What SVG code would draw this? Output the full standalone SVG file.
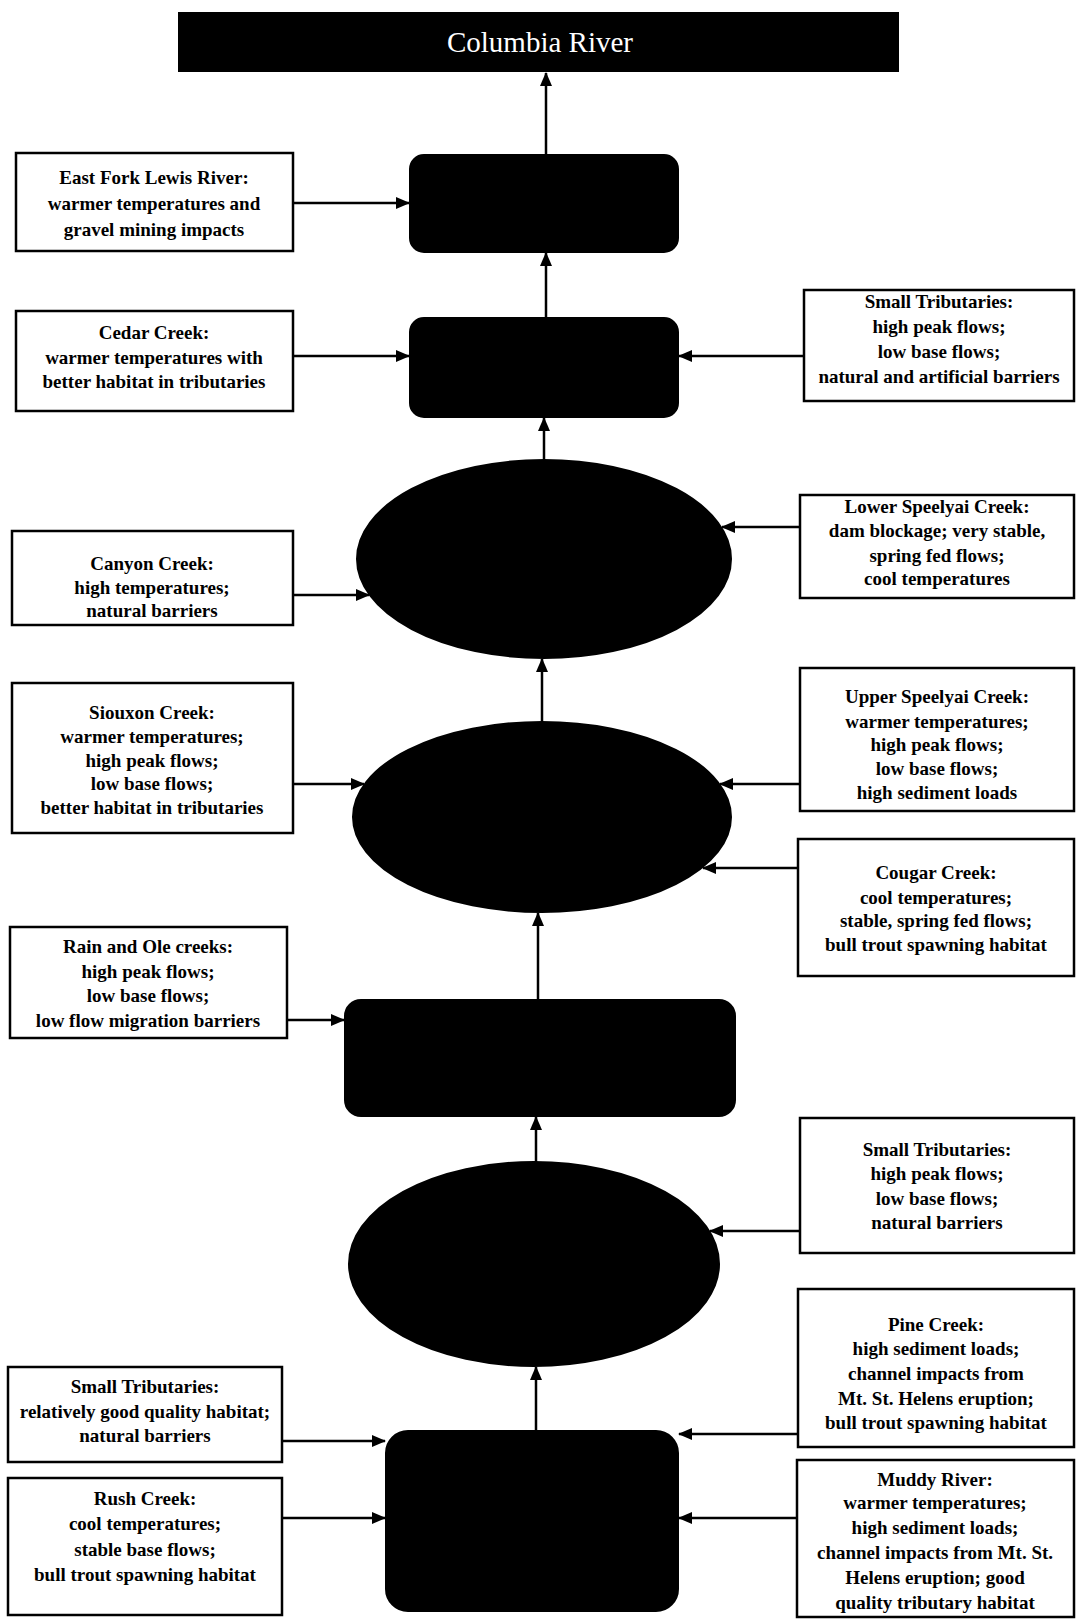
<svg xmlns="http://www.w3.org/2000/svg" width="1085" height="1624" viewBox="0 0 1085 1624">
<style>
.box{fill:#fff;stroke:#000;stroke-width:2.5}
.dark{fill:#000;stroke:#000;stroke-width:2}
.t{font-family:"Liberation Serif","Times New Roman",serif;font-weight:bold;font-size:19px;text-anchor:middle;fill:#000}
.title{font-family:"Liberation Serif","Times New Roman",serif;font-size:29px;text-anchor:middle;fill:#fff}
.c{stroke:#000;stroke-width:2.5;fill:none;marker-end:url(#ah)}
</style>
<defs>
<marker id="ah" markerUnits="userSpaceOnUse" markerWidth="14" markerHeight="12" refX="13" refY="6" orient="auto">
<path d="M0,0 L14,6 L0,12 Z" fill="#000"/>
</marker>
</defs>
<rect width="1085" height="1624" fill="#fff"/>

<g id="connectors">
<line class="c" x1="546" y1="155" x2="546" y2="73"/>
<line class="c" x1="546" y1="318" x2="546" y2="253"/>
<line class="c" x1="544" y1="460" x2="544" y2="418"/>
<line class="c" x1="542" y1="722" x2="542" y2="659"/>
<line class="c" x1="538" y1="1000" x2="538" y2="913"/>
<line class="c" x1="536" y1="1162" x2="536" y2="1117"/>
<line class="c" x1="536" y1="1431" x2="536" y2="1367"/>
<line class="c" x1="293" y1="203" x2="409" y2="203"/>
<line class="c" x1="293" y1="356" x2="409" y2="356"/>
<line class="c" x1="804" y1="356" x2="679" y2="356"/>
<line class="c" x1="293" y1="595" x2="369" y2="595"/>
<line class="c" x1="800" y1="527" x2="722" y2="527"/>
<line class="c" x1="293" y1="784" x2="364" y2="784"/>
<line class="c" x1="800" y1="784" x2="720" y2="784"/>
<line class="c" x1="798" y1="868" x2="703" y2="868"/>
<line class="c" x1="287" y1="1020" x2="344" y2="1020"/>
<line class="c" x1="800" y1="1231" x2="710" y2="1231"/>
<line class="c" x1="282" y1="1441" x2="385" y2="1441"/>
<line class="c" x1="282" y1="1518" x2="385" y2="1518"/>
<line class="c" x1="798" y1="1434" x2="679" y2="1434"/>
<line class="c" x1="797" y1="1518" x2="679" y2="1518"/>
</g>

<g id="columbia-river">
<rect x="178" y="12" width="721" height="60" fill="#000"/>
<text class="title" x="540" y="52">Columbia River</text>
</g>

<g id="node-lewis">
<rect class="dark" x="410" y="155" width="268" height="97" rx="14" fill="#151515"/>
</g>
<g id="node-lewis2">
<rect class="dark" x="410" y="318" width="268" height="99" rx="14"/>
</g>
<g id="node-ellipse1"><ellipse class="dark" cx="544" cy="559" rx="187" ry="99"/></g>
<g id="node-ellipse2"><ellipse class="dark" cx="542" cy="817" rx="189" ry="95"/></g>
<g id="node-rect3"><rect class="dark" x="345" y="1000" width="390" height="116" rx="16"/></g>
<g id="node-ellipse3"><ellipse class="dark" cx="534" cy="1264" rx="185" ry="102"/></g>
<g id="node-rect4"><rect class="dark" x="386" y="1431" width="292" height="180" rx="22"/></g>

<g id="east-fork">
<rect class="box" x="16" y="153" width="277" height="98"/>
<text class="t" x="154" y="184">East Fork Lewis River:</text>
<text class="t" x="154" y="210">warmer temperatures and</text>
<text class="t" x="154" y="236">gravel mining impacts</text>
</g>

<g id="cedar-creek">
<rect class="box" x="16" y="311" width="277" height="100"/>
<text class="t" x="154" y="339">Cedar Creek:</text>
<text class="t" x="154" y="364">warmer temperatures with</text>
<text class="t" x="154" y="388">better habitat in tributaries</text>
</g>

<g id="small-trib-1">
<rect class="box" x="804" y="290" width="270" height="111"/>
<text class="t" x="939" y="308">Small Tributaries:</text>
<text class="t" x="939" y="333">high peak flows;</text>
<text class="t" x="939" y="358">low base flows;</text>
<text class="t" x="939" y="383">natural and artificial  barriers</text>
</g>

<g id="canyon-creek">
<rect class="box" x="12" y="531" width="281" height="94"/>
<text class="t" x="152" y="570">Canyon Creek:</text>
<text class="t" x="152" y="594">high temperatures;</text>
<text class="t" x="152" y="617">natural barriers</text>
</g>

<g id="lower-speelyai">
<rect class="box" x="800" y="495" width="274" height="103"/>
<text class="t" x="937" y="513">Lower Speelyai Creek:</text>
<text class="t" x="937" y="537">dam blockage; very stable,</text>
<text class="t" x="937" y="562">spring fed flows;</text>
<text class="t" x="937" y="585">cool temperatures</text>
</g>

<g id="siouxon-creek">
<rect class="box" x="12" y="683" width="281" height="150"/>
<text class="t" x="152" y="719">Siouxon Creek:</text>
<text class="t" x="152" y="743">warmer temperatures;</text>
<text class="t" x="152" y="767">high peak flows;</text>
<text class="t" x="152" y="790">low base flows;</text>
<text class="t" x="152" y="814">better habitat in tributaries</text>
</g>

<g id="upper-speelyai">
<rect class="box" x="800" y="668" width="274" height="143"/>
<text class="t" x="937" y="703">Upper Speelyai Creek:</text>
<text class="t" x="937" y="728">warmer temperatures;</text>
<text class="t" x="937" y="751">high peak flows;</text>
<text class="t" x="937" y="775">low base flows;</text>
<text class="t" x="937" y="799">high sediment loads</text>
</g>

<g id="cougar-creek">
<rect class="box" x="798" y="839" width="276" height="137"/>
<text class="t" x="936" y="879">Cougar Creek:</text>
<text class="t" x="936" y="904">cool temperatures;</text>
<text class="t" x="936" y="927">stable, spring fed flows;</text>
<text class="t" x="936" y="951">bull trout spawning habitat</text>
</g>

<g id="rain-ole">
<rect class="box" x="10" y="927" width="277" height="111"/>
<text class="t" x="148" y="953">Rain and Ole creeks:</text>
<text class="t" x="148" y="978">high peak flows;</text>
<text class="t" x="148" y="1002">low base flows;</text>
<text class="t" x="148" y="1027">low flow migration barriers</text>
</g>

<g id="small-trib-2">
<rect class="box" x="800" y="1118" width="274" height="135"/>
<text class="t" x="937" y="1156">Small Tributaries:</text>
<text class="t" x="937" y="1180">high peak flows;</text>
<text class="t" x="937" y="1205">low base flows;</text>
<text class="t" x="937" y="1229">natural barriers</text>
</g>

<g id="pine-creek">
<rect class="box" x="798" y="1289" width="276" height="158"/>
<text class="t" x="936" y="1331">Pine Creek:</text>
<text class="t" x="936" y="1355">high sediment loads;</text>
<text class="t" x="936" y="1380">channel impacts from</text>
<text class="t" x="936" y="1405">Mt. St. Helens eruption;</text>
<text class="t" x="936" y="1429">bull trout spawning habitat</text>
</g>

<g id="small-trib-3">
<rect class="box" x="8" y="1367" width="274" height="95"/>
<text class="t" x="145" y="1393">Small Tributaries:</text>
<text class="t" x="145" y="1418">relatively good quality habitat;</text>
<text class="t" x="145" y="1442">natural barriers</text>
</g>

<g id="rush-creek">
<rect class="box" x="8" y="1478" width="274" height="137"/>
<text class="t" x="145" y="1505">Rush Creek:</text>
<text class="t" x="145" y="1530">cool temperatures;</text>
<text class="t" x="145" y="1556">stable base flows;</text>
<text class="t" x="145" y="1581">bull trout spawning habitat</text>
</g>

<g id="muddy-river">
<rect class="box" x="797" y="1460" width="277" height="157"/>
<text class="t" x="935" y="1486">Muddy River:</text>
<text class="t" x="935" y="1509">warmer temperatures;</text>
<text class="t" x="935" y="1534">high sediment loads;</text>
<text class="t" x="935" y="1559">channel impacts from Mt. St.</text>
<text class="t" x="935" y="1584">Helens eruption; good</text>
<text class="t" x="935" y="1609">quality tributary habitat</text>
</g>
</svg>
